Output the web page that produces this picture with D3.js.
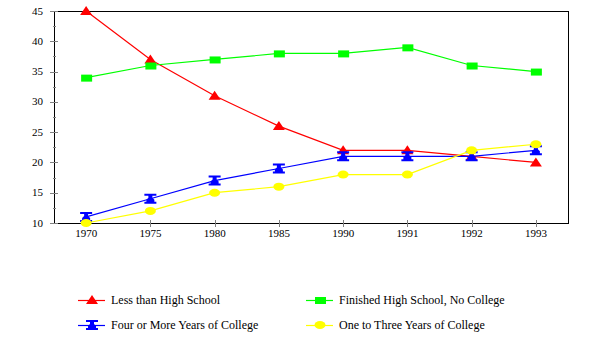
<!DOCTYPE html>
<html>
<head>
<meta charset="utf-8">
<script src="https://cdn.jsdelivr.net/npm/d3@7"></script>
<style>
  body { margin: 0; background: #fff; }
  svg { display: block; }
  svg text { font-family: "Times New Roman", "Liberation Serif", serif; }
</style>
</head>
<body>
<svg width="600" height="343"></svg>
<script>
const years = ["1970", "1975", "1980", "1985", "1990", "1991", "1992", "1993"];
const lessThanHS = [45, 37, 31, 26, 22, 22, 21, 20];
const finishedHS = [34, 36, 37, 38, 38, 39, 36, 35];
const fourPlus = [11, 14, 17, 19, 21, 21, 21, 22];
const oneToThree = [10, 12, 15, 16, 18, 18, 22, 23];
const yTicks = [10, 15, 20, 25, 30, 35, 40, 45];

const series = [
  { name: "Less than High School", values: lessThanHS, color: "#ff0000", marker: "triangle" },
  { name: "Finished High School, No College", values: finishedHS, color: "#00ff00", marker: "square" },
  { name: "Four or More Years of College", values: fourPlus, color: "#0000ff", marker: "bowtie" },
  { name: "One to Three Years of College", values: oneToThree, color: "#ffff00", marker: "circle" }
];

const svg = d3.select("svg");
const plotLeft = 54, plotRight = 568, plotTop = 11, plotBottom = 223;

const x = d3.scaleBand().domain(years).range([plotLeft, plotRight]);
const cx = d => x(d) + x.bandwidth() / 2;
const y = d3.scaleLinear().domain([10, 45]).range([plotBottom, plotTop]);

// frame
svg.append("rect")
  .attr("x", plotLeft + 0.5).attr("y", plotTop + 0.5)
  .attr("width", plotRight - plotLeft).attr("height", plotBottom - plotTop)
  .attr("fill", "none").attr("stroke", "#000").attr("stroke-width", 1);

// y axis ticks
const minor = d3.range(12.5, 45, 5);
svg.selectAll(".minor").data(minor).enter().append("line")
  .attr("x1", plotLeft - 1).attr("x2", plotLeft + 2)
  .attr("y1", d => Math.round(y(d)) + 0.5).attr("y2", d => Math.round(y(d)) + 0.5)
  .attr("stroke", "#808080");
svg.selectAll(".major").data(yTicks).enter().append("line")
  .attr("x1", plotLeft - 4).attr("x2", plotLeft + 4)
  .attr("y1", d => Math.round(y(d)) + 0.5).attr("y2", d => Math.round(y(d)) + 0.5)
  .attr("stroke", "#808080");
svg.selectAll(".ylab").data(yTicks).enter().append("text")
  .attr("x", 43).attr("y", d => y(d) + 3.5)
  .attr("text-anchor", "end").attr("font-size", 11)
  .text(d => d);

// x axis ticks
svg.selectAll(".xtick").data(years).enter().append("line")
  .attr("x1", d => Math.round(cx(d)) + 0.5).attr("x2", d => Math.round(cx(d)) + 0.5)
  .attr("y1", plotBottom - 3).attr("y2", plotBottom + 4)
  .attr("stroke", "#808080");
svg.selectAll(".xlab").data(years).enter().append("text")
  .attr("x", d => cx(d)).attr("y", 237)
  .attr("text-anchor", "middle").attr("font-size", 11)
  .text(d => d);

function drawMarker(g, type, color, px, py) {
  if (type === "triangle") {
    g.append("path").attr("d", `M${px - 6},${py + 4} L${px},${py - 5} L${px + 6},${py + 4} Z`).attr("fill", color);
  } else if (type === "square") {
    g.append("rect").attr("x", px - 5).attr("y", py - 3).attr("width", 11).attr("height", 7).attr("fill", color);
  } else if (type === "bowtie") {
    g.append("path").attr("d",
      `M${px - 6},${py - 5} L${px + 6},${py - 5} L${px + 6},${py - 3} L${px + 2},${py - 3} L${px + 2},${py - 1} L${px + 4},${py + 1} L${px + 4},${py + 3} L${px + 6},${py + 3} L${px + 6},${py + 5} L${px - 6},${py + 5} L${px - 6},${py + 3} L${px - 4},${py + 3} L${px - 4},${py + 1} L${px - 2},${py - 1} L${px - 2},${py - 3} L${px - 6},${py - 3} Z`)
      .attr("fill", color);
  } else {
    g.append("ellipse").attr("cx", px).attr("cy", py).attr("rx", 5.5).attr("ry", 4).attr("fill", color);
  }
}

const line = d3.line().x((d, i) => cx(years[i])).y(d => y(d));

series.forEach(s => {
  const g = svg.append("g");
  g.append("path").datum(s.values)
    .attr("d", line).attr("fill", "none")
    .attr("stroke", s.color).attr("stroke-width", 1.2);
  s.values.forEach((v, i) => drawMarker(g, s.marker, s.color, cx(years[i]), y(v)));
});

// legend
const legendPos = [[78, 300], [306, 300], [78, 325], [306, 325]];
series.forEach((s, i) => {
  const [lx, ly] = legendPos[i];
  const g = svg.append("g");
  g.append("line").attr("x1", lx).attr("x2", lx + 27)
    .attr("y1", ly + 0.5).attr("y2", ly + 0.5)
    .attr("stroke", s.color).attr("stroke-width", 1.2);
  drawMarker(g, s.marker, s.color, lx + 14, ly);
  g.append("text").attr("x", lx + 33).attr("y", ly + 4)
    .attr("font-size", 12).text(s.name);
});
</script>
</body>
</html>
